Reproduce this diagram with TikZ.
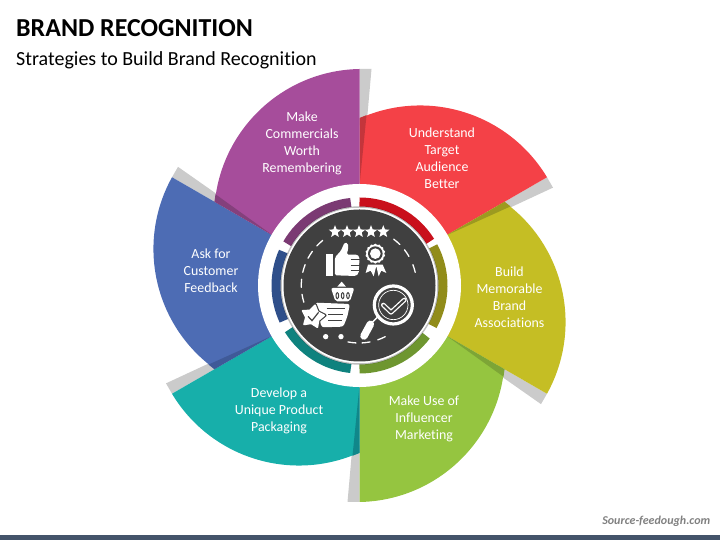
\documentclass[tikz,border=0pt]{standalone}
\usepackage{fontspec}
\setmainfont{Carlito}[Ligatures=NoCommon]
\usepackage{xcolor}
\usetikzlibrary{shapes.geometric}
\definecolor{petalred}{HTML}{F44147}
\definecolor{petalyellow}{HTML}{C5BE24}
\definecolor{petalgreen}{HTML}{95C540}
\definecolor{petalteal}{HTML}{17AFAA}
\definecolor{petalblue}{HTML}{4D6CB4}
\definecolor{petalpurple}{HTML}{A64D9B}
\definecolor{sliverred}{HTML}{C4353B}
\definecolor{sliveryellow}{HTML}{9C9A20}
\definecolor{slivergreen}{HTML}{7DA536}
\definecolor{sliverteal}{HTML}{10878A}
\definecolor{sliverblue}{HTML}{3F5A98}
\definecolor{sliverpurple}{HTML}{84407C}
\definecolor{ringred}{HTML}{C9101C}
\definecolor{ringyellow}{HTML}{918C1A}
\definecolor{ringgreen}{HTML}{6E9630}
\definecolor{ringteal}{HTML}{0F827E}
\definecolor{ringblue}{HTML}{2F4F8A}
\definecolor{ringpurple}{HTML}{7B3A73}
\definecolor{hubgrey}{HTML}{404040}
\definecolor{shadowgrey}{HTML}{CBCBCB}
\definecolor{barblue}{HTML}{44546A}
\tikzset{
  petaltext/.style={text=white,font=\fontsize{13.9}{17}\selectfont,align=center,inner sep=0pt},
  ratestar/.style={star,star points=5,star point ratio=2.3,fill=white,inner sep=0pt,minimum size=13pt},
  iconline/.style={white,line cap=round,line join=round},
}
\begin{document}
\begin{tikzpicture}[x=1pt,y=1pt]
  \useasboundingbox (0,0) rectangle (720,540);
  \coordinate (hub) at (359.5,254.5);
  % grey tails, under all the petals
  \foreach \rot in {0,60,...,300}
  {
    \fill[shadowgrey,shift={(hub)},rotate=\rot] (0,216.5) -- (12,216.5) -- (7,160) -- (0,160) -- cycle;
  }
  % petals, each one stops at the straight edge of the next
  \foreach \rot/\base/\sliver in {0/petalred/sliverred,-60/petalyellow/sliveryellow,-120/petalgreen/slivergreen,-180/petalteal/sliverteal,-240/petalblue/sliverblue,60/petalpurple/sliverpurple}
  {
    \begin{scope}[shift={(hub)},rotate=\rot]
      \fill[\base] (30:216.5) arc[start angle=31,end angle=114.1,radius=148pt] -- (90:95) -- (30:95) -- cycle;
      \fill[\sliver] (0,100) -- (0,167.5) -- (7,170.3) -- cycle;
    \end{scope}
  }
  \fill[white] (hub) circle[radius=101.5pt];
  % ring pieces
  \foreach \from/\to/\col in {32/90/ringred,-29/28/ringyellow,-90/-37/ringgreen,212/264/ringteal,156/205/ringblue,96/150/ringpurple}
  {
    \draw[\col,line width=9pt,shift={(hub)}] (\from:83.5) arc[start angle=\from,end angle=\to,radius=83.5pt];
  }
  \draw[black,opacity=0.25,line width=1.5pt] (hub) circle[radius=78.5pt];
  \fill[white] (hub) circle[radius=77.5pt];
  \fill[hubgrey] (hub) circle[radius=76pt];
  % dashed circle, only where no icon stands
  \foreach \ang in {17,34,49,133,148,163,178,193,263,277,293}
  {
    \draw[iconline,line width=1.3pt,shift={(359,254.7)}] (\ang-4:57.7) arc[start angle=\ang-4,end angle=\ang+4,radius=57.7pt];
  }
  % stars
  \foreach \i/\px in {1/335,2/347,3/359,4/371,5/383.3}
  {
    \node[ratestar] (star\i) at (\px,308.3) {};
  }
  % icons, typed in the units of the 3x crop of the hub
  \begin{scope}[shift={(260,360)},x=0.3333pt,y=-0.3333pt]
    % thumb
    \fill[white] (197,222) rectangle (218,288);
    \fill[white,rounded corners=1.5pt] (225,232) -- (243,212) -- (254,187) -- (264,190) -- (265,205) -- (260,224) -- (292,224) -- (298,230) -- (298,246) -- (296,280) -- (288,288) -- (225,286) -- cycle;
    \foreach \gy in {238,255,271}
    {
      \draw[hubgrey,line width=0.8pt] (272,\gy) -- (300,\gy);
    }
    % badge
    \fill[white] (324,254) -- (317,279) -- (332,272) -- (341,289) -- (349,258) -- (356,289) -- (364,272) -- (379,279) -- (368,254) -- cycle;
    \node[star,star points=14,star point ratio=1.12,fill=white,inner sep=0pt,minimum size=20pt] (badge) at (346,221) {};
    \fill[hubgrey] (346,221) circle[radius=22];
    \fill[white] (346,221) circle[radius=16];
    % basket top
    \fill[white] (245,305) -- (258,320) -- (232,320) -- cycle;
    \fill[white,rounded corners=2pt] (213,324) -- (283,324) -- (270,364) -- (226,364) -- cycle;
    \foreach \dx in {232,248,264}
    {
      \draw[hubgrey,line width=1pt] (\dx,347) ellipse[x radius=4,y radius=9];
    }
    % basket
    \fill[white,rounded corners=2.5pt] (165,368) -- (270,372) -- (262,410) -- (250,440) -- (185,442) -- cycle;
    \foreach \ly/\lx/\rx in {385/200/255,403/205/250,422/205/245}
    {
      \draw[hubgrey,line width=1pt] (\lx,\ly) -- (\rx,\ly);
    }
    \node[star,star points=5,star point ratio=1.7,fill=hubgrey,draw=hubgrey,line width=3pt,line join=round,inner sep=0pt,minimum size=25pt,rotate=-12] (packrim) at (158,410) {};
    \node[star,star points=5,star point ratio=1.7,fill=white,draw=white,line width=1.8pt,line join=round,inner sep=0pt,minimum size=23pt,rotate=-12] (pack) at (158,410) {};
    \draw[hubgrey,line width=1.2pt,line cap=round] (145,410) -- (156,422) -- (175,398);
    \fill[white] (197,470) circle[radius=8];
    \fill[white] (243,470) circle[radius=8];
    % lens
    \draw[white,line width=3.2pt] (400,375) circle[radius=57];
    \draw[white,line width=0.7pt] (400,375) circle[radius=44];
    \draw[iconline,line width=1.4pt] (352,412) -- (336,428);
    \draw[iconline,line width=7.5pt] (331,433) -- (312,468);
    \draw[iconline,line width=4.6pt] (370,375) -- (393,397) -- (433,360);
    \draw[hubgrey,line width=2pt,line cap=round,line join=round] (370,375) -- (393,397) -- (433,360);
  \end{scope}
  % petal labels
  \node[petaltext] (worth) at (302,396.5) {Make\\Commercials\\Worth\\Remembering};
  \node[petaltext] (target) at (442,381.5) {Understand\\Target\\Audience\\Better};
  \node[petaltext] (memorable) at (509.5,242.5) {Build\\Memorable\\Brand\\Associations};
  \node[petaltext] (influencer) at (424,121.5) {Make Use of\\Influencer\\Marketing};
  \node[petaltext] (packaging) at (279,129.5) {Develop a\\Unique Product\\Packaging};
  \node[petaltext] (feedback) at (211,269.5) {Ask for\\Customer\\Feedback};
  % titles and footer
  \node[anchor=base west,inner sep=0pt,font=\bfseries\fontsize{25.9}{30}\selectfont] (title) at (16,503.5) {BRAND RECOGNITION};
  \node[anchor=base west,inner sep=0pt,font=\fontsize{20}{24}\selectfont] (subtitle) at (16,474.5) {Strategies to Build Brand Recognition};
  \node[anchor=base east,inner sep=0pt,text=black!50,font=\bfseries\itshape\fontsize{12}{14}\selectfont] (source) at (710.5,15.5) {Source-feedough.com};
  \fill[barblue] (0,0) rectangle (720,5);
\end{tikzpicture}
\end{document}
